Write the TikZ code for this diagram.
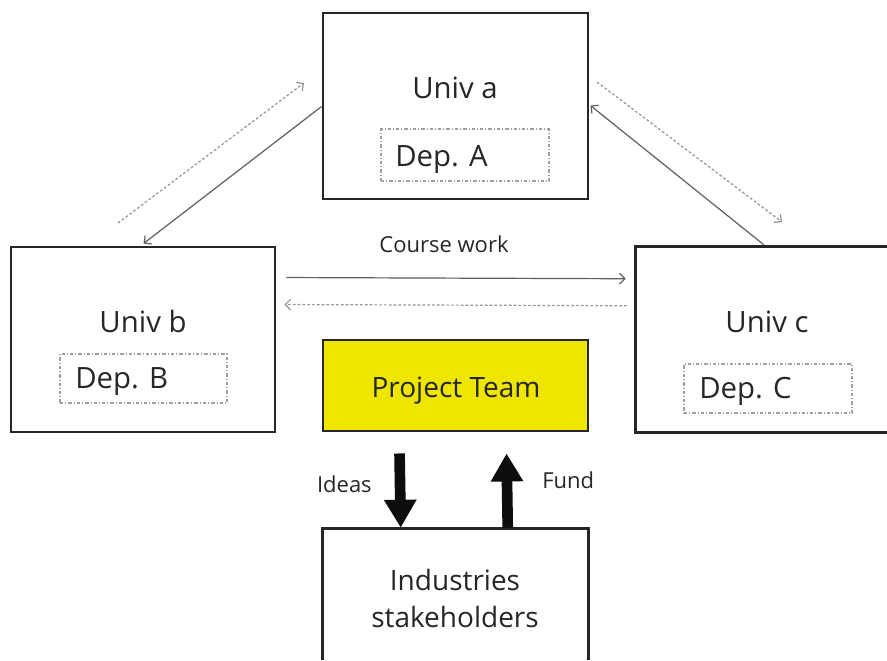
\documentclass[tikz,border=0pt]{standalone}
\usepackage{fontspec}
\setmainfont{Open Sans}
\usetikzlibrary{arrows.meta,calc}
\definecolor{txt}{HTML}{262626}
\definecolor{ptyellow}{HTML}{EEE600}
\definecolor{thin}{HTML}{5E5E5E}
\tikzset{
  bigbox/.style={draw=black!85, line width=2.2pt, inner sep=0pt},
  bigline/.style={draw=black!85, line width=2.2pt},
  depbox/.style={draw=gray!75, line width=0.8pt, dash pattern=on 2.5pt off 1.5pt on 0.8pt off 1.5pt, inner sep=0pt},
  lbl/.style={text=txt, inner sep=0pt},
  thinarrow/.style={draw=thin, line width=0.9pt, -{Straight Barb[length=4pt,width=8pt]}},
  dotarrow/.style={draw=gray!85, line width=0.9pt, dash pattern=on 2pt off 1.6pt, -{Straight Barb[length=4pt,width=8pt]}},
  fatarrow/.style={draw=black!95, line width=8pt, -{Triangle[length=21pt,width=23pt]}, shorten >=0pt}
}
\begin{document}
\begin{tikzpicture}[x=0.75pt,y=-0.75pt]
\useasboundingbox (0,0) rectangle (887,660);
% main boxes
\node[bigbox, minimum width=198.75pt, minimum height=139.5pt] (ua) at (455.5,106) {};
\node[bigbox, minimum width=198pt, minimum height=138.75pt] (ub) at (143,339.5) {};
\node[inner sep=0pt, minimum width=188.25pt, minimum height=138.75pt] (uc) at (761.5,339.5) {};
\draw[bigline] (uc.north east) -- (uc.north west) -- (uc.south west) -- (uc.south east);
\node[bigbox, fill=ptyellow, minimum width=198.75pt, minimum height=68.25pt] (pt) at (455.5,385.5) {};
\node[inner sep=0pt, minimum width=198.75pt, minimum height=98pt] (ind) at (455.5,594.33) {};
\draw[bigline] (ind.south west) -- (ind.north west) -- (ind.north east) -- (ind.south east);
% dep boxes
\node[depbox, minimum width=126pt, minimum height=39pt] (da) at (465,155) {};
\node[depbox, minimum width=125.25pt, minimum height=36.75pt] (db) at (143.5,378.5) {};
\node[depbox, minimum width=126pt, minimum height=36.75pt] (dc) at (768,388.5) {};
% labels
\node[lbl, anchor=base, font=\fontsize{22pt}{26pt}\selectfont] (ta) at (455,98) {Univ a};
\node[lbl, anchor=base, font=\fontsize{22pt}{26pt}\selectfont] (tb) at (143,332) {Univ b};
\node[lbl, anchor=base, font=\fontsize{22pt}{26pt}\selectfont] (tc) at (767,332) {Univ c};
\node[lbl, anchor=base west, font=\fontsize{22pt}{26pt}\selectfont] (tda) at (395,166) {Dep. A};
\node[lbl, anchor=base west, font=\fontsize{22pt}{26pt}\selectfont] (tdb) at (75,388) {Dep. B};
\node[lbl, anchor=base west, font=\fontsize{22pt}{26pt}\selectfont] (tdc) at (699,398) {Dep. C};
\node[lbl, anchor=base, font=\fontsize{21pt}{25pt}\selectfont] (tpt) at (456,397) {Project Team};
\node[lbl, anchor=base, font=\fontsize{21pt}{25pt}\selectfont] (tind1) at (455,590) {Industries};
\node[lbl, anchor=base, font=\fontsize{21pt}{25pt}\selectfont] (tind2) at (455,627) {stakeholders};
\node[lbl, anchor=base, font=\fontsize{16.5pt}{20pt}\selectfont] (cw) at (444,252) {Course work};
\node[lbl, anchor=base east, font=\fontsize{16.5pt}{20pt}\selectfont] (ideas) at (372,492) {Ideas};
\node[lbl, anchor=base west, font=\fontsize{16.5pt}{20pt}\selectfont] (fund) at (542,488) {Fund};
% thin connectors
\draw[thinarrow] ($(ua.north west)+(0,95)$) -- ($(ub.north west)+(134,-2)$);
\coordinate (d1s) at (118,223);
\coordinate (d1e) at (304,83);
\draw[dotarrow] (d1s) -- (d1e);
\draw[thinarrow] ($(uc.north west)+(128,-2)$) -- ($(ua.north east)+(1,94)$);
\coordinate (d2s) at (597,82);
\coordinate (d2e) at (782,222);
\draw[dotarrow] (d2s) -- (d2e);
\draw[thinarrow] ($(ub.north east)+(10,32)$) -- ($(uc.north west)+(-10,32)$);
\draw[dotarrow] ($(uc.north west)+(-9,59)$) -- ($(ub.north east)+(8,59)$);
% fat arrows
\draw[fatarrow] ($(pt.south west)+(78,21)$) -- ($(ind.north west)+(78,-1)$);
\draw[fatarrow] ($(ind.north west)+(185,-1)$) -- ($(pt.south west)+(185,21)$);
\end{tikzpicture}
\end{document}
